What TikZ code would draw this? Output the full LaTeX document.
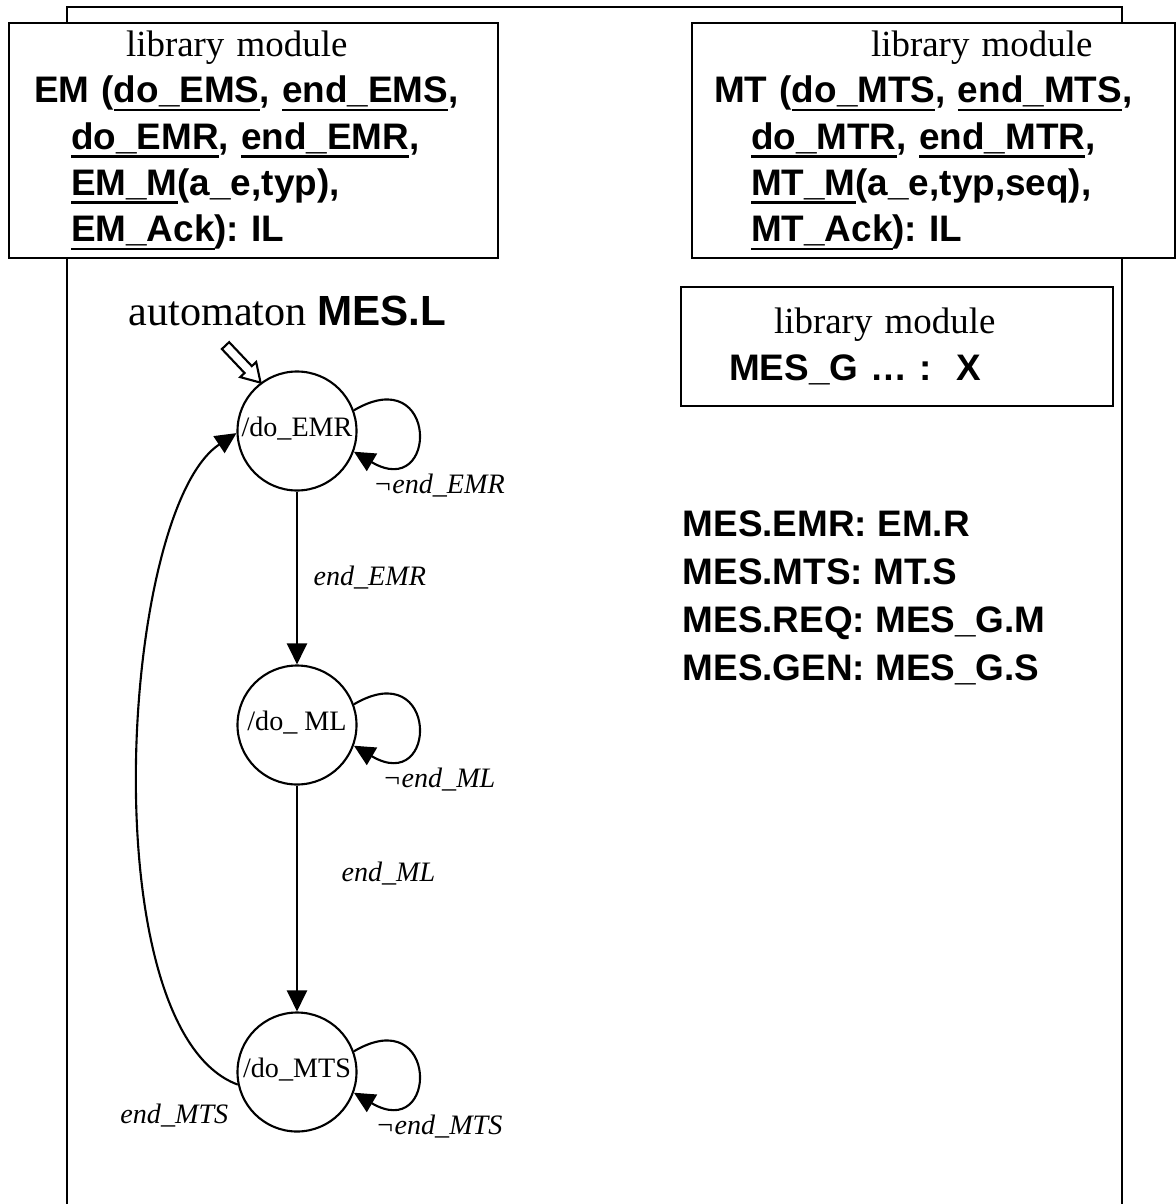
\documentclass[tikz,border=0pt]{standalone}
\usepackage{fontspec}
\setmainfont{Liberation Serif}
\setsansfont{Liberation Sans}
\usepackage{tikz}
\usetikzlibrary{arrows.meta,positioning}
\frenchspacing
\newcommand{\uln}[1]{%
  \setbox0\hbox{#1}\rlap{\rule[-2.45pt]{\wd0}{0.75pt}}\box0}
\newcommand{\selfloop}[2]{%
  \draw[trans] (#1.20) .. controls +(0.85,0.5) and +(0.85,-0.5) .. (#1.-20);
  \node[cond] (#1loop) at ([shift={(1.42,-0.55)}]#1.center) {¬#2};}
\tikzset{
  modbox/.style={draw,semithick,fill=white,anchor=north west,align=left,
    font=\fontsize{10.5}{13.2}\selectfont\sffamily\bfseries\frenchspacing},
  bind/.style={anchor=north west,align=left,inner sep=0pt,
    font=\fontsize{10.5}{13.7}\selectfont\sffamily\bfseries\frenchspacing},
  mstate/.style={draw,semithick,circle,minimum size=1.19cm,inner sep=0pt,
    text height=0.2cm,text depth=0.1cm,font=\fontsize{8}{9}\selectfont},
  cond/.style={font=\fontsize{8}{9}\selectfont\itshape,inner sep=1pt},
  trans/.style={semithick,-{Triangle[length=2.1mm,width=2mm]}}
}

\begin{document}
\begin{tikzpicture}
  \useasboundingbox (0,0) rectangle (11.76,-12.04);
  % outer frame, open at the bottom
  \draw[semithick] (0.67,-12.04) |- (11.22,-0.07) -- (11.22,-12.04);
  % library modules
  \node[modbox,text width=4.39cm,inner xsep=0.25cm,inner ysep=2pt,minimum height=2.35cm] (em) at (0.08,-0.22)
    {\hspace*{0.92cm}{\rmfamily\mdseries library module}\\
     EM (\uln{do\_EMS}, \uln{end\_EMS},\\
     \hspace*{0.37cm}\uln{do\_EMR}, \uln{end\_EMR},\\
     \hspace*{0.37cm}\uln{EM\_M}(a\_e,typ),\\
     \hspace*{0.37cm}\uln{EM\_Ack}): IL};
  \node[modbox,text width=4.39cm,inner xsep=0.22cm,inner ysep=2pt,minimum height=2.35cm] (mt) at (6.91,-0.22)
    {\hspace*{1.57cm}{\rmfamily\mdseries library module}\\
     MT (\uln{do\_MTS}, \uln{end\_MTS},\\
     \hspace*{0.37cm}\uln{do\_MTR}, \uln{end\_MTR},\\
     \hspace*{0.37cm}\uln{MT\_M}(a\_e,typ,seq),\\
     \hspace*{0.37cm}\uln{MT\_Ack}): IL};
  \node[modbox,text width=3.36cm,inner xsep=0.48cm,minimum height=1.19cm] (mesg) at (6.80,-2.86)
    {\hspace*{0.45cm}{\rmfamily\mdseries library module}\\
     MES\_G …~:~~X};
  \node[bind] (binds) at (6.82,-5.10)
    {MES.EMR: EM.R\\ MES.MTS: MT.S\\ MES.REQ: MES\_G.M\\ MES.GEN: MES\_G.S};
  % automaton
  \node[anchor=base,font=\fontsize{12}{14}\selectfont] (autname) at (2.875,-3.25)
    {automaton \textsf{\bfseries MES.L}};
  \node[mstate] (emr) at (2.97,-4.31) {/do\_EMR};
  \node[mstate] (ml)  at (2.97,-7.25) {/do\_ ML};
  \node[mstate] (mts) at (2.97,-10.72) {/do\_MTS};
  \draw[semithick,fill=white,shift={(emr.127)},rotate=133.4]
    (0,0) -- (0.18,0.11) -- (0.18,0.05) -- (0.51,0.05)
    -- (0.51,-0.05) -- (0.18,-0.05) -- (0.18,-0.11) -- cycle;
  \selfloop{emr}{end\_EMR}
  \selfloop{ml}{end\_ML}
  \selfloop{mts}{end\_MTS}
  \draw[trans] (emr) -- (ml) node[cond,midway,right=0.12cm] (lblemr) {end\_EMR};
  \draw[trans] (ml) -- (mts) node[cond,pos=0.39,right=0.4cm] (lblml) {end\_ML};
  \draw[trans] (mts.192) .. controls (0.90,-10.30) and (1.20,-5.10) .. (emr.182)
    node[cond,at start,below left,yshift=-0.15cm,xshift=-0.05cm] (lblmts) {end\_MTS};
\end{tikzpicture}
\end{document}
